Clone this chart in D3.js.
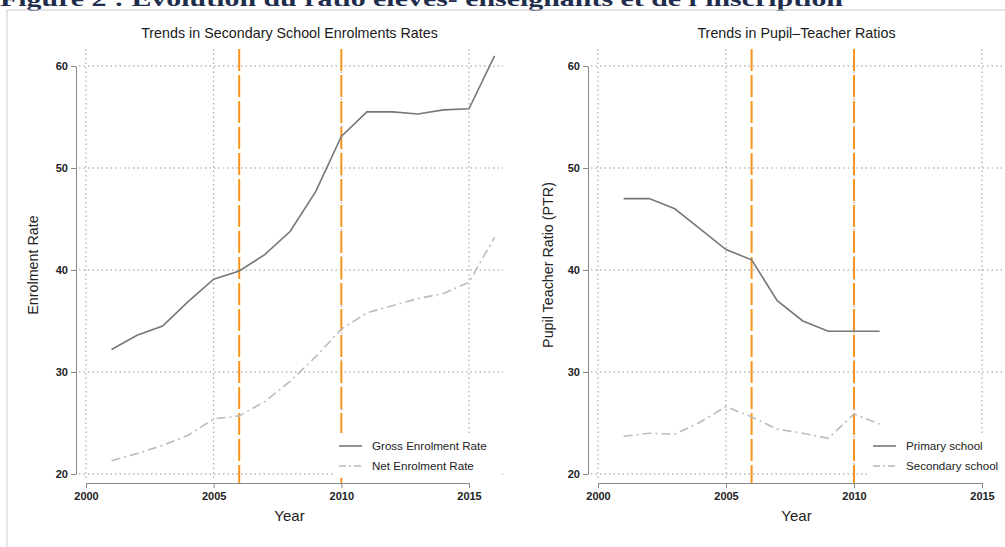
<!DOCTYPE html>
<html>
<head>
<meta charset="utf-8">
<script src="https://cdn.jsdelivr.net/npm/d3@7"></script>
<style>
  body { margin: 0; background: #fff; }
  svg { display: block; font-family: "Liberation Sans", Arial, sans-serif; }
  .tick text { font-size: 11px; fill: #222; }
  .tick line, .domain { stroke: #888; }
</style>
</head>
<body>
<div id="chart"></div>
<script>
// datos
const years = [2001, 2002, 2003, 2004, 2005, 2006, 2007, 2008, 2009, 2010, 2011, 2012, 2013, 2014, 2015, 2016];
const grossRate = [32.2, 33.6, 34.5, 36.9, 39.1, 39.9, 41.5, 43.8, 47.7, 53.1, 55.5, 55.5, 55.3, 55.7, 55.8, 61.0];
const netRate = [21.3, 22.0, 22.8, 23.8, 25.4, 25.7, 27.1, 29.1, 31.5, 34.2, 35.8, 36.5, 37.2, 37.7, 38.8, 43.2];

const ptrYears = [2001, 2002, 2003, 2004, 2005, 2006, 2007, 2008, 2009, 2010, 2011];
const primaryPTR = [47.0, 47.0, 46.0, 44.0, 42.0, 41.0, 37.0, 35.0, 34.0, 34.0, 34.0];
const secondaryPTR = [23.7, 24.0, 23.9, 25.1, 26.6, 25.6, 24.4, 24.0, 23.5, 25.9, 24.9];

const xTicks = [2000, 2005, 2010, 2015];
const yTicks = [20, 30, 40, 50, 60];
const markerYears = [2006, 2010];

const width = 1005;
const height = 547;

const svg = d3.select("#chart")
  .append("svg")
  .attr("width", width)
  .attr("height", height);

// titulo de la figura (cortado arriba, como en el original)
svg.append("text")
  .attr("x", 0)
  .attr("y", 6)
  .attr("font-family", "Liberation Serif, serif")
  .attr("font-weight", "bold")
  .attr("font-size", 22)
  .attr("fill", "#1f2d4d")
  .attr("textLength", 843)
  .attr("lengthAdjust", "spacingAndGlyphs")
  .text("Figure 2 : Evolution du ratio élèves- enseignants et de l'inscription");

// marco
svg.append("path")
  .attr("d", `M7,${height} V10 H${width}`)
  .attr("fill", "none")
  .attr("stroke", "#ccc");

const y = d3.scaleLinear().domain([20, 60]).range([474, 66]);

const panels = [
  {
    title: "Trends in Secondary School Enrolments Rates",
    yLabel: "Enrolment Rate",
    axisX: 76, gridRight: 503, xRange: [86, 469], yLabelX: 38,
    series: [
      { name: "Gross Enrolment Rate", xs: years, vals: grossRate, solid: true },
      { name: "Net Enrolment Rate", xs: years, vals: netRate, solid: false },
    ],
    legend: { x: 333, w: 167 },
  },
  {
    title: "Trends in Pupil\u2013Teacher Ratios",
    yLabel: "Pupil Teacher Ratio (PTR)",
    axisX: 588, gridRight: 1005, xRange: [598, 982], yLabelX: 553,
    series: [
      { name: "Primary school", xs: ptrYears, vals: primaryPTR, solid: true },
      { name: "Secondary school", xs: ptrYears, vals: secondaryPTR, solid: false },
    ],
    legend: { x: 867, w: 138 },
  },
];

panels.forEach((p) => {
  const x = d3.scaleLinear().domain([2000, 2015]).range(p.xRange);
  const g = svg.append("g");
  const plotCenter = (p.axisX + p.gridRight) / 2;

  // rejilla punteada
  g.selectAll(".hgrid")
    .data(yTicks)
    .join("line")
    .attr("x1", p.axisX + 3)
    .attr("x2", p.gridRight)
    .attr("y1", (d) => y(d))
    .attr("y2", (d) => y(d))
    .attr("stroke", "#999")
    .attr("stroke-dasharray", "1.5,3");

  g.selectAll(".vgrid")
    .data(xTicks)
    .join("line")
    .attr("x1", (d) => x(d))
    .attr("x2", (d) => x(d))
    .attr("y1", 49)
    .attr("y2", 480)
    .attr("stroke", "#999")
    .attr("stroke-dasharray", "1.5,3");

  // lineas verticales naranjas
  g.selectAll(".marker")
    .data(markerYears)
    .join("line")
    .attr("x1", (d) => x(d))
    .attr("x2", (d) => x(d))
    .attr("y1", 49)
    .attr("y2", 483)
    .attr("stroke", "#f7941d")
    .attr("stroke-width", 2)
    .attr("stroke-dasharray", "22,4");

  // series
  p.series.forEach((s) => {
    const line = d3.line()
      .x((d, i) => x(s.xs[i]))
      .y((d) => y(d));
    g.append("path")
      .datum(s.vals)
      .attr("d", line)
      .attr("fill", "none")
      .attr("stroke", s.solid ? "#777" : "#bbb")
      .attr("stroke-width", 1.6)
      .attr("stroke-dasharray", s.solid ? null : "9,4,2,4");
  });

  // ejes
  g.append("g")
    .attr("transform", `translate(${p.axisX},0)`)
    .call(d3.axisLeft(y).tickValues(yTicks).tickSize(5).tickSizeOuter(0).tickPadding(3))
    .call((a) => a.selectAll("text").attr("font-weight", "bold").attr("fill", "#333"));

  g.append("g")
    .attr("transform", "translate(0,483)")
    .call(d3.axisBottom(x).tickValues(xTicks).tickFormat(d3.format("d")).tickSize(5).tickSizeOuter(0).tickPadding(4))
    .call((a) => a.selectAll("text").attr("font-weight", "bold").attr("fill", "#333"));

  // leyenda con fondo blanco
  const lg = g.append("g");
  lg.append("rect")
    .attr("x", p.legend.x)
    .attr("y", 433)
    .attr("width", p.legend.w)
    .attr("height", 45)
    .attr("fill", "#fff");
  p.series.forEach((s, i) => {
    const ly = 446 + i * 20;
    lg.append("line")
      .attr("x1", p.legend.x + 6)
      .attr("x2", p.legend.x + 29)
      .attr("y1", ly)
      .attr("y2", ly)
      .attr("stroke", s.solid ? "#777" : "#bbb")
      .attr("stroke-width", 1.6)
      .attr("stroke-dasharray", s.solid ? null : "7,3,2,3");
    lg.append("text")
      .attr("x", p.legend.x + 39)
      .attr("y", ly + 4)
      .attr("font-size", 11.6)
      .attr("fill", "#222")
      .text(s.name);
  });

  // titulos
  g.append("text")
    .attr("x", plotCenter)
    .attr("y", 38)
    .attr("text-anchor", "middle")
    .attr("font-size", 14.3)
    .attr("fill", "#1a1a1a")
    .text(p.title);

  g.append("text")
    .attr("x", plotCenter)
    .attr("y", 521)
    .attr("text-anchor", "middle")
    .attr("font-size", 15)
    .attr("fill", "#222")
    .text("Year");

  g.append("text")
    .attr("transform", `translate(${p.yLabelX},265) rotate(-90)`)
    .attr("text-anchor", "middle")
    .attr("font-size", 14.3)
    .attr("fill", "#222")
    .text(p.yLabel);
});
</script>
</body>
</html>
